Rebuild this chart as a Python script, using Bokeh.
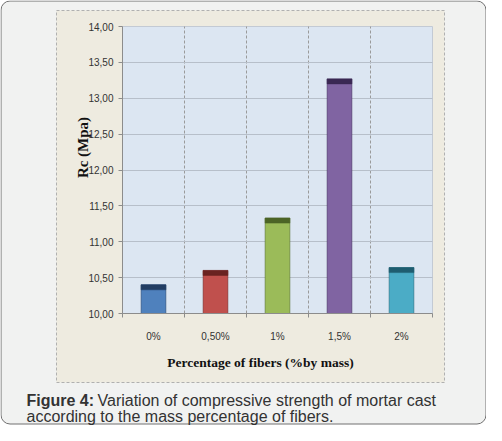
from math import pi

from bokeh.embed import file_html
from bokeh.models import BoxAnnotation, FixedTicker, Label, Range1d
from bokeh.plotting import figure
from bokeh.resources import INLINE

# data
categories = ["0%", "0,50%", "1%", "1,5%", "2%"]
rc_values = [10.40, 10.60, 11.33, 13.27, 10.64]
bar_colors = ["#4f81bd", "#c0504d", "#9bbb59", "#8064a2", "#4bacc6"]
cap_colors = ["#223d63", "#6a2321", "#4c6426", "#3a2853", "#1f5d70"]
y_ticks = [10.0, 10.5, 11.0, 11.5, 12.0, 12.5, 13.0, 13.5, 14.0]
y_tick_labels = ["10,00", "10,50", "11,00", "11,50", "12,00", "12,50", "13,00", "13,50", "14,00"]

centers = [i + 0.5 for i in range(len(categories))]
bounds = list(range(len(categories) + 1))

# page geometry (pixels): the frame covers the whole canvas, the plot area sits inside it
W, H = 486, 425
PL, PR, PT, PB = 122, 432, 26, 313
xs = (PR - PL) / len(categories)
ys = (PB - PT) / (y_ticks[-1] - y_ticks[0])

p = figure(width=W, height=H, output_backend="svg", toolbar_location=None,
           x_range=Range1d(-PL / xs, (W - PL) / xs),
           y_range=Range1d(y_ticks[0] - (H - PB) / ys, y_ticks[-1] + PT / ys),
           min_border=0)
p.border_fill_color = "white"
p.background_fill_color = None
p.outline_line_color = None

# outer caption box, beige chart area, light blue plot area
p.add_layout(BoxAnnotation(left=0.5, right=W - 0.5, top=H - 0.5, bottom=1.5,
                           left_units="screen", right_units="screen",
                           top_units="screen", bottom_units="screen",
                           fill_color="#f1f2f1", fill_alpha=1, line_color="#707070",
                           line_width=1, line_alpha=1, border_radius=9, level="image"))
p.add_layout(BoxAnnotation(left=56, right=444, top=H - 10, bottom=H - 382,
                           left_units="screen", right_units="screen",
                           top_units="screen", bottom_units="screen",
                           fill_color="#eeebe0", fill_alpha=1, line_color="#b0b0b0",
                           line_width=1, line_alpha=1, line_dash="3 2", level="image"))
p.add_layout(BoxAnnotation(left=bounds[0], right=bounds[-1], bottom=y_ticks[0], top=y_ticks[-1],
                           fill_color="#dce6f2", fill_alpha=1, line_color="#c3cad4",
                           line_alpha=1, level="image"))

# bars with a darker top band
p.vbar(x=centers, width=0.4, bottom=y_ticks[0], top=rc_values,
       fill_color=bar_colors, line_color=cap_colors, line_alpha=0.5, line_width=1)
p.vbar(x=centers, width=0.4, bottom=[v - 0.07 for v in rc_values], top=rc_values,
       fill_color=cap_colors, line_color=cap_colors, line_alpha=0.5, line_width=1)

# x axis: labels at centres, ticks at category bounds
p.xaxis.fixed_location = y_ticks[0]
p.xaxis.bounds = (bounds[0], bounds[-1])
p.xaxis.ticker = FixedTicker(ticks=centers, minor_ticks=bounds)
p.xaxis.major_label_overrides = dict(zip(centers, categories))
p.xaxis.major_tick_out = 0
p.xaxis.major_tick_in = 0
p.xaxis.minor_tick_out = 4
p.xaxis.minor_tick_in = 0
p.xaxis.major_label_standoff = 13

p.yaxis.fixed_location = bounds[0]
p.yaxis.bounds = (y_ticks[0], y_ticks[-1])
p.yaxis.ticker = FixedTicker(ticks=y_ticks)
p.yaxis.major_label_overrides = dict(zip(y_ticks, y_tick_labels))
p.yaxis.major_tick_out = 4
p.yaxis.major_tick_in = 0
p.yaxis.minor_tick_out = 0
p.yaxis.minor_tick_in = 0
p.yaxis.major_label_standoff = 5

for ax in (p.xaxis, p.yaxis):
    ax.axis_line_color = "#8c8c8c"
    ax.major_tick_line_color = "#8c8c8c"
    ax.minor_tick_line_color = "#8c8c8c"
    ax.major_label_text_font = "Liberation Sans"
    ax.major_label_text_font_size = "10px"
    ax.major_label_text_color = "#333333"

p.xgrid.ticker = FixedTicker(ticks=bounds[1:-1])
p.xgrid.cross_bounds = (y_ticks[0], y_ticks[-1])
p.xgrid.grid_line_color = "#9a9a9a"
p.xgrid.grid_line_dash = "3 2"
p.ygrid.ticker = FixedTicker(ticks=y_ticks[1:-1])
p.ygrid.cross_bounds = (bounds[0], bounds[-1])
p.ygrid.grid_line_color = "#b7bfca"

# axis titles
p.add_layout(Label(x=82, y=H - 147, x_units="screen", y_units="screen", angle=pi / 2,
                   text="Rc (Mpa)", text_font="Liberation Serif", text_font_style="bold",
                   text_font_size="15px", text_color="#111111",
                   text_align="center", text_baseline="middle"))
p.add_layout(Label(x=260, y=H - 362, x_units="screen", y_units="screen",
                   text="Percentage of fibers (%by mass)", text_font="Liberation Serif",
                   text_font_style="bold", text_font_size="13.5px", text_color="#111111",
                   text_align="center", text_baseline="alphabetic"))

# caption
cap = dict(x_units="screen", y_units="screen", text_font="Liberation Sans",
           text_font_size="16px", text_color="#333333", text_baseline="alphabetic")
p.add_layout(Label(x=26, y=H - 400, text="Figure 4:", text_font_style="bold", **cap))
p.add_layout(Label(x=97, y=H - 400, text="Variation of compressive strength of mortar cast", **cap))
p.add_layout(Label(x=26, y=H - 416, text="according to the mass percentage of fibers.", **cap))

open("out.html", "w").write(file_html(p, INLINE))
